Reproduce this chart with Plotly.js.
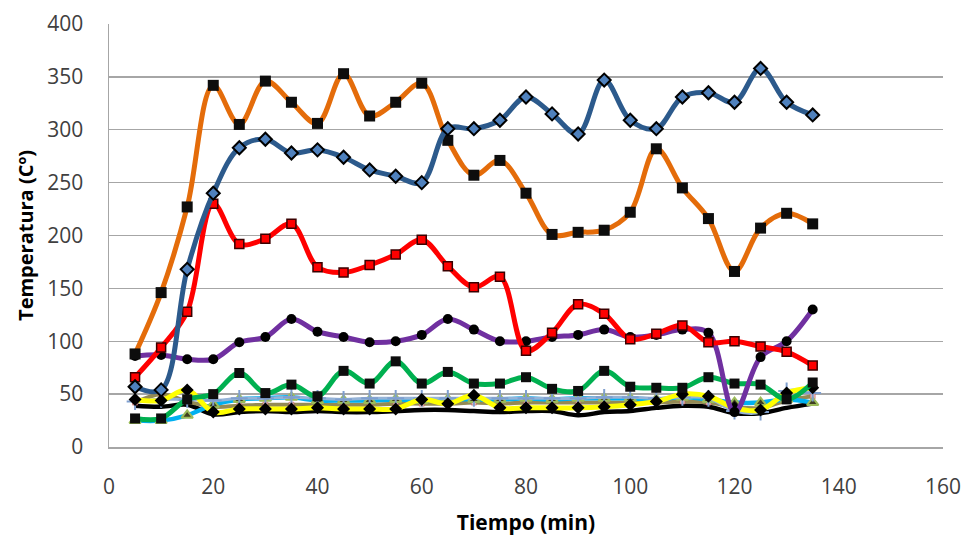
<!DOCTYPE html>
<html>
<head>
<meta charset="utf-8">
<script src="https://cdn.plot.ly/plotly-3.0.1.min.js"></script>
<style>html,body{margin:0;padding:0;background:#fff;}#chart{width:967px;height:538px;}</style>
</head>
<body>
<div id="chart"></div>
<script>
const tiempo = [5,10,15,20,25,30,35,40,45,50,55,60,65,70,75,80,85,90,95,100,105,110,115,120,125,130,135];

const serieAzul    = [57,54,168,240,283,291,278,281,274,262,256,250,301,301,309,331,315,296,347,309,301,331,335,326,358,326,314];
const serieNaranja = [88,146,227,342,305,346,326,306,353,313,326,344,290,257,271,240,201,203,205,222,282,245,216,166,207,221,211];
const serieRoja    = [66,94,128,230,192,197,211,170,165,172,182,196,171,151,161,91,108,135,126,102,107,115,99,100,95,90,77];
const serieMorada  = [86,87,83,83,99,104,121,109,104,99,100,106,121,111,100,100,104,106,111,104,106,111,108,33,85,100,130];
const serieVerde   = [27,27,45,50,70,51,59,48,72,60,81,60,71,60,60,66,55,53,72,57,56,56,66,60,59,45,61];
const serieCeleste = [25,25,30,40,45,46,47,44,44,44,45,44,45,45,45,46,45,46,46,46,45,47,45,42,42,45,42];
const serieCruz    = [43,45,45,44,46,46,47,46,45,46,46,46,46,46,46,46,46,46,47,47,46,47,46,34,33,53,51];
const serieParda   = [42,50,43,38,39,40,40,40,40,40,41,41,41,42,41,42,42,42,42,42,42,43,42,38,37,44,48];
const serieNegra   = [39,38,40,31,33,34,33,34,33,33,34,35,35,34,33,34,34,30,33,34,37,39,38,32,32,37,41];
const serieAmarilla= [45,44,54,33,36,36,36,37,36,36,36,45,41,49,37,37,37,37,38,40,43,50,48,37,35,51,56];

const yTicks = [0,50,100,150,200,250,300,350,400];
const xTicks = [0,20,40,60,80,100,120,140,160];

function linea(y, color, width, marker, name){
  return {x: tiempo, y: y, type:'scatter', mode: marker ? 'lines+markers' : 'lines', name: name,
    line:{color:color, width:width, shape:'spline', smoothing:1}, marker: marker || {}, showlegend:false};
}

const data = [
  linea(serieNegra, '#000000', 4.5, null, 'S10'),
  linea(serieParda, '#948A54', 4, {symbol:'square', size:5, color:'#E6B9B8', line:{color:'#C0504D', width:0.5}}, 'S8'),
  linea(serieCeleste, '#00B0F0', 4.5, {symbol:'triangle-up', size:10, color:'#3F3F1F', line:{color:'#9BBB59', width:2}}, 'S6'),
  linea(serieCruz, '#95B3D7', 3, {symbol:'cross-thin', size:12, line:{color:'#7F9FCF', width:2}}, 'S7'),
  linea(serieAmarilla, '#FFFF00', 5, {symbol:'diamond', size:10, color:'#000000'}, 'S9'),
  linea(serieVerde, '#00B050', 5, {symbol:'square', size:10, color:'#0D0D0D'}, 'S5'),
  linea(serieMorada, '#7030A0', 5, {symbol:'circle', size:10, color:'#000000'}, 'S4'),
  linea(serieRoja, '#FF0000', 5, {symbol:'square', size:9, color:'#FF0000', line:{color:'#3A0000', width:1.5}}, 'S3'),
  linea(serieNaranja, '#E46C0A', 5, {symbol:'square', size:11, color:'#0D0D0D'}, 'S2'),
  linea(serieAzul, '#2C5A8C', 5, {symbol:'diamond', size:10, color:'#4F81BD', line:{color:'#000000', width:2}}, 'S1')
];

const fuente = 'Open Sans, Liberation Sans, sans-serif';
const layout = {
  width:967, height:538,
  margin:{l:109, r:24, t:24, b:91},
  paper_bgcolor:'#ffffff', plot_bgcolor:'#ffffff',
  showlegend:false,
  xaxis:{
    range:[0,160], tickvals:xTicks, ticktext:xTicks.map(String),
    showgrid:false, zeroline:false, showline:true, linecolor:'#A6A6A6', linewidth:1.5,
    ticks:'outside', ticklen:20, tickcolor:'rgba(0,0,0,0)',
    tickfont:{family:fuente, size:21, color:'#404040'},
    title:{text:'<b>Tiempo (min)</b>', font:{family:fuente, size:21, color:'#000000'}, standoff:16}
  },
  yaxis:{
    range:[0,400], tickvals:yTicks, ticktext:yTicks.map(String),
    showgrid:true, gridcolor:'#A6A6A6', gridwidth:1.3, zeroline:false,
    showline:true, linecolor:'#A6A6A6', linewidth:1.5,
    ticks:'outside', ticklen:20, tickcolor:'rgba(0,0,0,0)',
    tickfont:{family:fuente, size:21, color:'#404040'},
    title:{text:'<b>Temperatura (Cº)</b>', font:{family:fuente, size:20, color:'#000000'}, standoff:8}
  }
};

Plotly.newPlot('chart', data, layout, {staticPlot:true, displayModeBar:false});
</script>
</body>
</html>
